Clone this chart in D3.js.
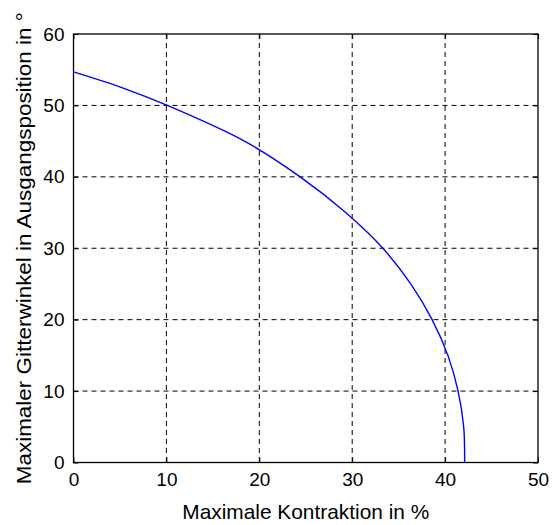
<!DOCTYPE html>
<html lang="de">
<head>
  <meta charset="utf-8">
  <title>Maximale Kontraktion</title>
  <script src="https://cdn.jsdelivr.net/npm/d3@7"></script>
  <style>
  body { margin: 0; background: #fff; }
  svg { font-family: "Liberation Sans", Arial, sans-serif; }
  </style>
</head>
<body>
  <script>
  // values (angle in degrees, contraction in %)
  var angle = [54.7, 52.5, 50, 45, 40, 35, 30, 25, 20, 15, 10, 5, 0];
  var contraction = [0, 5.2, 10.1, 18.4, 24.4, 29.3, 33.3, 36.3, 38.6, 40.3, 41.4, 42.0, 42.1];
  var xTicks = [0, 10, 20, 30, 40, 50];
  var yTicks = [0, 10, 20, 30, 40, 50, 60];

  var width = 552, height = 525;
  var box = {left: 73.5, right: 538, top: 34, bottom: 462.5};

  var svg = d3.select("body").append("svg")
  .attr("width", width)
  .attr("height", height);

  var x = d3.scaleLinear().domain([0, 50]).range([box.left, box.right]);
  var y = d3.scaleLinear().domain([0, 60]).range([box.bottom, box.top]);

  // grid
  svg.append("g").selectAll("line").data(xTicks.slice(1, -1)).enter().append("line")
  .attr("x1", function(d) { return x(d); })
  .attr("x2", function(d) { return x(d); })
  .attr("y1", box.top)
  .attr("y2", box.bottom)
  .attr("stroke", "black")
  .attr("stroke-width", 1)
  .attr("stroke-dasharray", "5,4");

  svg.append("g").selectAll("line").data(yTicks.slice(1, -1)).enter().append("line")
  .attr("y1", function(d) { return y(d); })
  .attr("y2", function(d) { return y(d); })
  .attr("x1", box.left)
  .attr("x2", box.right)
  .attr("stroke", "black")
  .attr("stroke-width", 1)
  .attr("stroke-dasharray", "5,4");

  // axes with inward ticks
  var fmt = d3.format("d");
  var gx = svg.append("g").attr("transform", "translate(0," + box.bottom + ")")
  .call(d3.axisBottom(x).tickValues(xTicks).tickSizeInner(-5).tickSizeOuter(0).tickPadding(10).tickFormat(fmt));
  var gy = svg.append("g").attr("transform", "translate(" + box.left + ",0)")
  .call(d3.axisLeft(y).tickValues(yTicks).tickSizeInner(-5).tickSizeOuter(0).tickPadding(9).tickFormat(fmt));
  svg.append("g").attr("transform", "translate(0," + box.top + ")")
  .call(d3.axisTop(x).tickValues(xTicks).tickSizeInner(-5).tickSizeOuter(0).tickFormat(""));
  svg.append("g").attr("transform", "translate(" + box.right + ",0)")
  .call(d3.axisRight(y).tickValues(yTicks).tickSizeInner(-5).tickSizeOuter(0).tickFormat(""));

  svg.selectAll(".domain").remove();
  svg.selectAll(".tick line").attr("stroke", "black");
  svg.selectAll(".tick text")
  .attr("fill", "black")
  .style("font-size", "19px")
  .style("font-family", "'Liberation Sans', Arial, sans-serif");
  gx.selectAll(".tick text").attr("dy", "0.71em");

  svg.append("rect")
  .attr("x", box.left)
  .attr("y", box.top)
  .attr("width", box.right - box.left)
  .attr("height", box.bottom - box.top)
  .attr("fill", "none")
  .attr("stroke", "black")
  .attr("stroke-width", 1.3);

  // curve
  var pts = angle.map(function(a, i) { return [contraction[i], a]; });
  var line = d3.line()
  .x(function(d) { return x(d[0]); })
  .y(function(d) { return y(d[1]); })
  .curve(d3.curveCatmullRom.alpha(0.5));

  svg.append("path")
  .attr("d", line(pts))
  .attr("fill", "none")
  .attr("stroke", "#0000ff")
  .attr("stroke-width", 1.4);

  // labels
  svg.append("text")
  .attr("x", (box.left + box.right) / 2)
  .attr("y", 519)
  .attr("text-anchor", "middle")
  .attr("textLength", 247)
  .attr("lengthAdjust", "spacingAndGlyphs")
  .style("font-size", "21px")
  .text("Maximale Kontraktion in %");

  svg.append("text")
  .attr("transform", "translate(31," + ((box.top + box.bottom) / 2) + ") rotate(-90)")
  .attr("text-anchor", "middle")
  .attr("textLength", 472)
  .attr("lengthAdjust", "spacingAndGlyphs")
  .style("font-size", "21px")
  .text("Maximaler Gitterwinkel in Ausgangsposition in °");
  </script>
</body>
</html>
